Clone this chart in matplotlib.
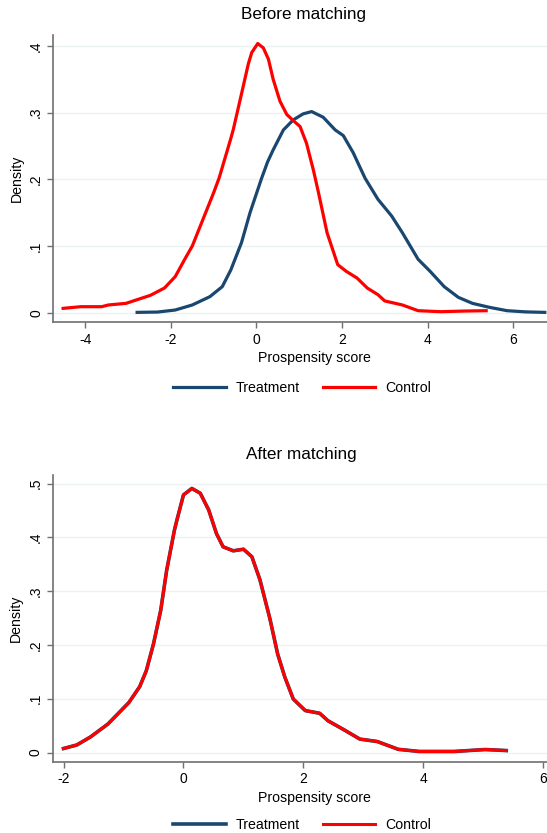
import matplotlib
matplotlib.use('Agg')
import matplotlib.pyplot as plt
from matplotlib.ticker import FuncFormatter

plt.rcParams['font.family'] = ['Liberation Sans', 'DejaVu Sans']
plt.rcParams['axes.unicode_minus'] = False

# before matching - kernel densities
before_treat_x = [-2.79, -2.31, -1.9, -1.5, -1.09, -0.8, -0.6, -0.35, -0.15, 0.12, 0.26, 0.39,
                  0.63, 0.86, 1.09, 1.29, 1.56, 1.84, 2.03, 2.26, 2.54, 2.84, 3.16, 3.41,
                  3.78, 4.06, 4.39, 4.72, 5.05, 5.45, 5.86, 6.3, 6.74]
before_treat_y = [0.0005, 0.001, 0.004, 0.0116, 0.024, 0.039, 0.064, 0.105, 0.15, 0.2015, 0.226, 0.244,
                  0.274, 0.289, 0.298, 0.3015, 0.293, 0.274, 0.2655, 0.24, 0.2015, 0.17, 0.145, 0.12,
                  0.08, 0.062, 0.039, 0.023, 0.014, 0.008, 0.003, 0.0012, 0.0005]

before_ctrl_x = [-4.52, -4.11, -3.62, -3.46, -3.05, -2.72, -2.48, -2.15, -1.9, -1.66, -1.5, -1.25,
                 -1.0, -0.87, -0.6, -0.54, -0.35, -0.19, -0.11, 0.03, 0.16, 0.28, 0.39, 0.55,
                 0.71, 0.86, 1.02, 1.17, 1.33, 1.45, 1.65, 1.9, 2.1, 2.35, 2.59, 2.84,
                 3.0, 3.41, 3.78, 4.31, 4.88, 5.37]
before_ctrl_y = [0.0065, 0.009, 0.009, 0.0116, 0.014, 0.021, 0.026, 0.037, 0.054, 0.082, 0.1, 0.14,
                 0.18, 0.2025, 0.261, 0.275, 0.328, 0.373, 0.39, 0.4035, 0.397, 0.38, 0.35, 0.317,
                 0.297, 0.288, 0.279, 0.254, 0.214, 0.18, 0.12, 0.072, 0.062, 0.052, 0.037, 0.027,
                 0.0176, 0.0116, 0.003, 0.0015, 0.0025, 0.003]

# after matching - both groups lie on top of each other
after_x = [-2.0, -1.78, -1.55, -1.26, -0.91, -0.73, -0.62, -0.5, -0.38, -0.28, -0.15, -0.11,
           0.0, 0.14, 0.28, 0.42, 0.55, 0.66, 0.83, 1.0, 1.14, 1.275, 1.44, 1.57, 1.69, 1.83,
           2.03, 2.27, 2.41, 2.68, 2.94, 3.23, 3.58, 3.93, 4.51, 5.03, 5.38]
after_treat = [0.0075, 0.014, 0.029, 0.053, 0.093, 0.1225, 0.152, 0.202, 0.264, 0.339, 0.414, 0.432,
               0.479, 0.491, 0.482, 0.451, 0.407, 0.3825, 0.375, 0.378, 0.364, 0.321, 0.249, 0.183, 0.14, 0.0995,
               0.078, 0.073, 0.059, 0.042, 0.025, 0.0205, 0.006, 0.002, 0.002, 0.0056, 0.0037]
after_ctrl = list(after_treat)

x_ticks_top = [-4, -2, 0, 2, 4, 6]
x_ticks_bot = [-2, 0, 2, 4, 6]
y_ticks_top = [0, 0.1, 0.2, 0.3, 0.4]
y_ticks_bot = [0, 0.1, 0.2, 0.3, 0.4, 0.5]

navy = '#1a476f'
red = '#ff0000'
grey = '#707070'


def stata_fmt(v, pos):
    s = ('%.1f' % v)
    if s == '0.0':
        return '0'
    return s.lstrip('0')


def style(ax, xt, yt):
    for s in ['top', 'right']:
        ax.spines[s].set_visible(False)
    for s in ['left', 'bottom']:
        ax.spines[s].set_color(grey)
        ax.spines[s].set_linewidth(1.2)
    ax.set_xticks(xt)
    ax.set_yticks(yt)
    ax.yaxis.set_major_formatter(FuncFormatter(stata_fmt))
    ax.tick_params(axis='both', colors=grey, labelcolor='black', labelsize=10, length=4.3, width=1)
    ax.tick_params(axis='y', labelrotation=90, pad=3)
    for lab in ax.get_yticklabels():
        lab.set_va('center')
    ax.grid(axis='y', color='#eaf2f3', linewidth=1)
    ax.set_axisbelow(True)
    ax.set_xlabel('Prospensity score', fontsize=10.2, labelpad=3)
    ax.set_ylabel('Density', fontsize=10.2, labelpad=4)


fig = plt.figure(figsize=(5.47, 8.33), dpi=100)
leg_kw = dict(loc='center', ncol=2, frameon=False, fontsize=10.2,
              handlelength=3.72, handletextpad=0.66, columnspacing=1.65)

# plot region runs past the right edge (picture was cropped)
ax1 = fig.add_axes([0.0974, 0.6138, 0.9556, 0.3442])
l1, = ax1.plot(before_treat_x, before_treat_y, color=navy, lw=2.3, label='Treatment')
l2, = ax1.plot(before_ctrl_x, before_ctrl_y, color=red, lw=2.3, label='Control')
ax1.set_xlim(-4.75, 7.47)
ax1.set_ylim(-0.0135, 0.4163)
style(ax1, x_ticks_top, y_ticks_top)
fig.text(0.554, 1 - 15 / 833, 'Before matching', ha='center', va='center', fontsize=12.3)
fig.legend([l1, l2], ['Treatment', 'Control'], bbox_to_anchor=(0.552, 1 - 388 / 833), **leg_kw)

ax2 = fig.add_axes([0.0969, 0.0858, 0.9558, 0.344])
m1, = ax2.plot(after_x, after_treat, color=navy, lw=2.6, label='Treatment')
m2, = ax2.plot(after_x, after_ctrl, color=red, lw=2.2, label='Control')
ax2.set_xlim(-2.175, 6.54)
ax2.set_ylim(-0.0167, 0.516)
style(ax2, x_ticks_bot, y_ticks_bot)
fig.text(0.5516, 1 - 454 / 833, 'After matching', ha='center', va='center', fontsize=12.3)
fig.legend([m1, m2], ['Treatment', 'Control'], bbox_to_anchor=(0.552, 1 - 825 / 833), **leg_kw)

fig.savefig('out.png', dpi=100, facecolor='white')
